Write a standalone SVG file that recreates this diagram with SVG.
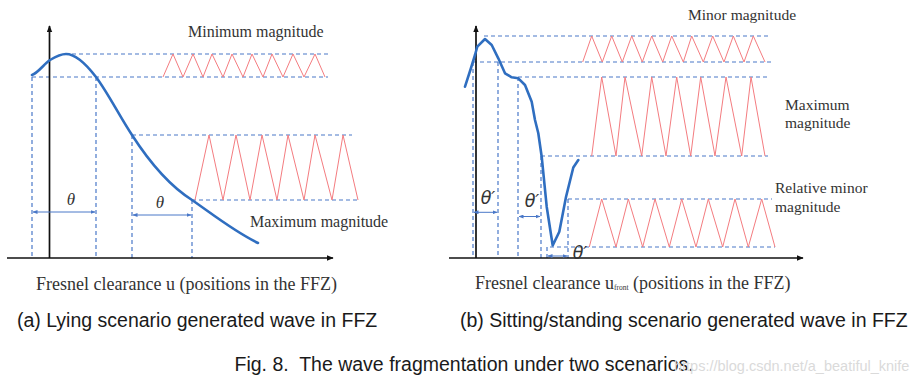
<svg xmlns="http://www.w3.org/2000/svg" width="924" height="384" viewBox="0 0 924 384">
<style>
.dash{stroke:#4a78c8;stroke-width:1.2;stroke-dasharray:4 3;fill:none}
.zig{stroke:#f47c80;stroke-width:1;fill:none;stroke-linejoin:miter}
.axis{stroke:#111;stroke-width:1.7;fill:none}
.curve{stroke:#2f6ec0;stroke-width:2.6;fill:none;stroke-linejoin:round;stroke-linecap:round}
.dim{stroke:#4a78c8;stroke-width:1;fill:none;marker-start:url(#da);marker-end:url(#da)}
.lbl{font-family:"Liberation Serif","Times New Roman",serif;font-size:16px;fill:#333}
.lbl2{font-family:"Liberation Serif","Times New Roman",serif;font-size:15.5px;fill:#333}
.xl{font-family:"Liberation Serif","Times New Roman",serif;font-size:18px;fill:#333}
.th{font-family:"Liberation Serif","Times New Roman",serif;font-style:italic;font-size:17px;fill:#333}
.thp{font-family:"DejaVu Sans","Liberation Sans",sans-serif;font-style:italic;font-size:17.5px;fill:#333}
.cap{font-family:"Liberation Sans",Arial,sans-serif;font-size:19.5px;fill:#1a1a1a}
.wm{font-family:"Liberation Sans",Arial,sans-serif;font-size:14.5px;fill:#dadada}
</style>
<defs>
<marker id="ax" viewBox="0 0 10 8" refX="9" refY="4" markerWidth="7" markerHeight="6" markerUnits="userSpaceOnUse" orient="auto">
<path d="M0,0 L10,4 L0,8 z" fill="#111"/>
</marker>
<marker id="da" viewBox="0 0 10 8" refX="9" refY="4" markerWidth="5" markerHeight="4" markerUnits="userSpaceOnUse" orient="auto-start-reverse">
<path d="M0,0 L10,4 L0,8 z" fill="#4a78c8"/>
</marker>
</defs>
<rect width="924" height="384" fill="#fff"/>

<g id="panel-a">
  <g id="a-dashes">
    <path class="dash" d="M65,54 H328 M32,77 H328 M132,135 H352 M192,200 H358"/>
    <path class="dash" d="M32,77 V258 M96,77 V258 M132,135 V258 M192,200 V258"/>
  </g>
  <g id="a-zigzags">
    <polyline class="zig" points="163,77 173,54 183,77 193,54 203,77 212,54 223,77 232,54 243,77 252,54 263,77 272,54 283,77 293,54 304,77 315,54 325,77"/>
    <polyline class="zig" points="195,200 209,135 223,200 236,135 250,200 262,135 277,200 288,135 304,200 315,135 332,200 343,135 358,200"/>
  </g>
  <g id="a-axes">
    <line class="axis" x1="49.5" y1="258" x2="49.5" y2="26" marker-end="url(#ax)"/>
    <line class="axis" x1="7" y1="258" x2="333" y2="258" marker-end="url(#ax)"/>
  </g>
  <path id="a-curve" class="curve" d="M32,75 C38,73 44,64 50,60 C55,57 60,54 66,54 C76,54 86,64 96,77 C108,93 120,117 132,135 C150,163 170,186 192,200 C215,216 235,232 258,243"/>
  <g id="a-dims">
    <line class="dim" x1="33" y1="212" x2="95" y2="212"/>
    <line class="dim" x1="133" y1="215" x2="191" y2="215"/>
    <text class="th" x="71" y="205" text-anchor="middle">θ</text>
    <text class="th" x="160" y="208" text-anchor="middle">θ</text>
  </g>
  <g id="a-labels">
    <text class="lbl" x="188" y="37">Minimum magnitude</text>
    <text class="lbl" x="250" y="227">Maximum magnitude</text>
    <text class="xl" x="36" y="290">Fresnel clearance u (positions in the FFZ)</text>
  </g>
</g>

<g id="panel-b">
  <g id="b-dashes">
    <path class="dash" d="M484,36 H768 M473,62 H772 M518,77 H768 M541,156 H768 M568,199 H772 M550,247 H775"/>
    <path class="dash" d="M473,62 V258 M498,62 V258 M518,77 V258 M541,156 V258 M547,247 V258 M568,199 V258"/>
  </g>
  <g id="b-zigzags">
    <polyline class="zig" points="582.7,62 591.7,36 602.3,62 611.7,36 622.3,62 631.7,36 642.3,62 651.7,36 662.7,62 671.7,36 683.3,62 691.7,36 703.3,62 712.7,36 724,62 733.3,36 744,62 753.3,36 765,62"/>
    <polyline class="zig" points="591.7,156 601.7,77 616,156 625,77 641.7,156 651.7,77 666,156 676.7,77 690.7,156 700.7,77 715,156 726,77 741.7,156 751,77 765,156"/>
    <polyline class="zig" points="589.3,247 601.7,199 616,247 628.3,199 642.7,247 655,199 669.3,247 681.7,199 696,247 708.3,199 722.7,247 735,199 748.3,247 761.7,199 775,247"/>
  </g>
  <g id="b-axes">
    <line class="axis" x1="476" y1="258" x2="476" y2="26" marker-end="url(#ax)"/>
    <line class="axis" x1="449" y1="258" x2="803" y2="258" marker-end="url(#ax)"/>
  </g>
  <polyline id="b-curve" class="curve" points="465,86.7 471,68 475,55 477.3,46.7 485,39 491.7,45 498.3,58.3 505,73.3 511.7,77.3 518.3,78.3 525,85 531.7,101.7 535,120 538.3,133.3 541.7,156.7 546.7,206.7 552.7,245.5 559.3,231.7 566,197 573.3,167.5 578.3,160"/>
  <g id="b-dims">
    <line class="dim" x1="474" y1="212.3" x2="497" y2="212.3"/>
    <line class="dim" x1="519" y1="216.5" x2="540" y2="216.5"/>
    <line class="dim" x1="548" y1="256" x2="567" y2="256"/>
    <text class="thp" x="488" y="204" text-anchor="middle">θ′</text>
    <text class="thp" x="532" y="207" text-anchor="middle">θ′</text>
    <text class="thp" x="580" y="259" text-anchor="middle">θ′</text>
  </g>
  <g id="b-labels">
    <text class="lbl2" x="688" y="20">Minor magnitude</text>
    <text class="lbl2" x="785" y="110">Maximum</text>
    <text class="lbl2" x="785" y="128">magnitude</text>
    <text class="lbl2" x="775" y="193">Relative minor</text>
    <text class="lbl2" x="775" y="212">magnitude</text>
    <text class="xl" x="475" y="288.5">Fresnel clearance u<tspan font-size="7.5" dy="1.5">front</tspan><tspan dy="-1.5"> (positions in the FFZ)</tspan></text>
  </g>
</g>

<g id="captions">
  <text class="cap" x="17" y="326.5">(a) Lying scenario generated wave in FFZ</text>
  <text class="cap" x="460" y="326.5">(b) Sitting/standing scenario generated wave in FFZ</text>
  <text class="cap" x="234.5" y="371" xml:space="preserve">Fig. 8.  The wave fragmentation under two scenarios.</text>
  <text class="wm" x="674" y="371">https://blog.csdn.net/a_beatiful_knife</text>
</g>
</svg>
